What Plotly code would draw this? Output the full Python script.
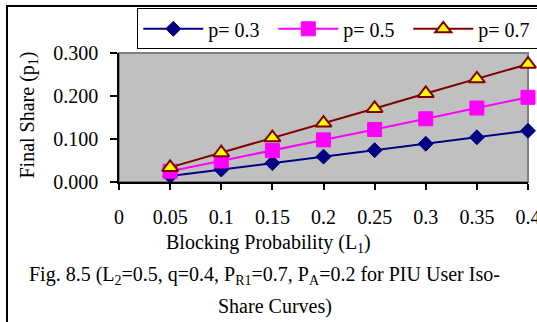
import plotly.graph_objects as go

# ---- data ----
blocking_prob = [0.05, 0.10, 0.15, 0.20, 0.25, 0.30, 0.35, 0.40]
share_p03 = [0.014, 0.029, 0.044, 0.059, 0.074, 0.089, 0.104, 0.119]
share_p05 = [0.025, 0.049, 0.073, 0.098, 0.122, 0.147, 0.172, 0.197]
share_p07 = [0.034, 0.068, 0.103, 0.137, 0.171, 0.206, 0.240, 0.274]
series_names = ["p= 0.3", "p= 0.5", "p= 0.7"]
x_tickvals = [0, 0.05, 0.1, 0.15, 0.2, 0.25, 0.3, 0.35, 0.4]
x_ticktext = ["0", "0.05", "0.1", "0.15", "0.2", "0.25", "0.3", "0.35", "0.4"]
y_tickvals = [0, 0.1, 0.2, 0.3]

FONT = "Liberation Serif"
FS = 20

fig = go.Figure()
fig.add_trace(go.Scatter(
    x=blocking_prob, y=share_p03, name=series_names[0], mode="lines+markers",
    line=dict(color="#000080", width=2),
    marker=dict(symbol="diamond", size=11.5, color="#000080",
                line=dict(color="#000080", width=1)),
    cliponaxis=False))
fig.add_trace(go.Scatter(
    x=blocking_prob, y=share_p05, name=series_names[1], mode="lines+markers",
    line=dict(color="#FF00FF", width=2),
    marker=dict(symbol="square", size=14, color="#FF00FF",
                line=dict(color="#FF00FF", width=1)),
    cliponaxis=False))
fig.add_trace(go.Scatter(
    x=blocking_prob, y=share_p07, name=series_names[2], mode="lines+markers",
    line=dict(color="#800000", width=2),
    marker=dict(symbol="triangle-up", size=14, color="#FFFF00",
                line=dict(color="#800000", width=2)),
    cliponaxis=False, legendwidth=62))

L, R, T, B = 119, 9, 53, 140
W, H = 537, 322
pw = W - L - R
ph = H - T - B

def px2x(px):
    return (px - L) / pw

def py2y(py):
    return (H - B - py) / ph

fig.update_layout(
    width=W, height=H,
    margin=dict(l=L, r=R, t=T, b=B, autoexpand=False),
    paper_bgcolor="white",
    plot_bgcolor="#C0C0C0",
    font=dict(family=FONT, size=FS, color="black"),
    showlegend=True,
    hovermode=False,
    legend=dict(
        orientation="h",
        x=px2x(137.3), xanchor="left",
        y=py2y(8.3), yanchor="top",
        bgcolor="white", bordercolor="black", borderwidth=1,
        font=dict(family=FONT, size=FS, color="black"),
        itemwidth=60,
        entrywidth=60,
        tracegroupgap=0,
    ),
    xaxis=dict(
        range=[0, 0.4], tickvals=x_tickvals, ticktext=x_ticktext,
        showgrid=False, zeroline=False,
        showline=True, linecolor="black", linewidth=1.5,
        ticks="outside", ticklen=6, tickcolor="black", tickwidth=1.5,
        tickfont=dict(family=FONT, size=FS, color="black"),
        ticklabelstandoff=10,
        ticklabeloverflow="allow",
    ),
    yaxis=dict(
        range=[0, 0.3], tickvals=y_tickvals, tickformat=".3f",
        showgrid=False, zeroline=False,
        showline=True, linecolor="black", linewidth=1.5,
        ticks="outside", ticklen=7, tickcolor="black", tickwidth=1.5,
        tickfont=dict(family=FONT, size=FS, color="black"),
        ticklabelstandoff=8,
    ),
    shapes=[
        dict(type="rect", xref="paper", yref="paper", x0=0, x1=1, y0=0, y1=1,
             line=dict(color="#808080", width=2), layer="below"),
        dict(type="rect", xref="paper", yref="paper",
             x0=px2x(7), x1=px2x(600), y0=py2y(6), y1=py2y(400),
             line=dict(color="black", width=2), layer="below"),
    ],
    annotations=[
        dict(text="Blocking Probability (L<sub>1</sub>)", xref="paper", yref="paper",
             x=px2x(268), y=py2y(243), xanchor="center", yanchor="middle",
             showarrow=False, font=dict(family=FONT, size=FS, color="black")),
        dict(text="Final Share (p<sub>1</sub>)", xref="paper", yref="paper",
             x=px2x(27.5), y=py2y(115), xanchor="center", yanchor="middle",
             textangle=-90, showarrow=False,
             font=dict(family=FONT, size=FS, color="black")),
        dict(text="Fig. 8.5 (L<sub>2</sub>=0.5, q=0.4, P<sub>R1</sub>=0.7, "
                  "P<sub>A</sub>=0.2 for PIU User Iso-",
             xref="paper", yref="paper",
             x=px2x(264.7), y=py2y(275), xanchor="center", yanchor="middle",
             showarrow=False, font=dict(family=FONT, size=FS, color="black")),
        dict(text="Share Curves)", xref="paper", yref="paper",
             x=px2x(275), y=py2y(306), xanchor="center", yanchor="middle",
             showarrow=False, font=dict(family=FONT, size=FS, color="black")),
    ],
)

fig.write_html("out.html")
